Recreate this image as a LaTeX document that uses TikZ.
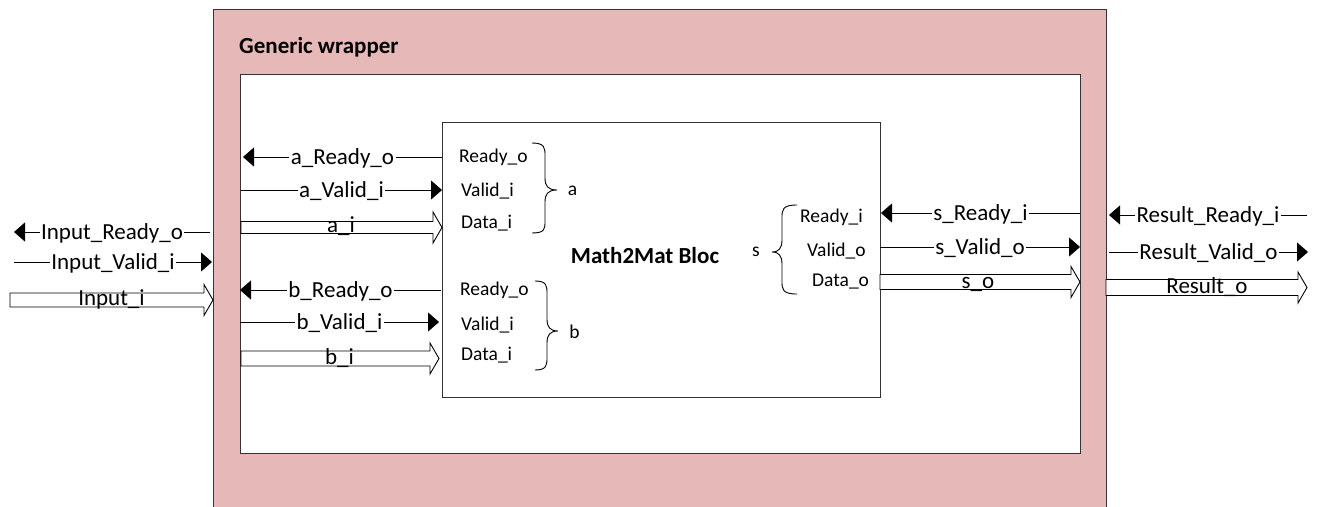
\documentclass[tikz,border=0pt]{standalone}
\usepackage{fontspec}
\setmainfont{Carlito}
\usetikzlibrary{arrows.meta,calc}
\definecolor{wrappink}{RGB}{230,185,184}
\begin{document}
\begin{tikzpicture}[x=1pt,y=-1pt,
  sig/.style={draw=black, line width=0.9pt},
  tipped/.style={sig, -{Triangle[length=11pt,width=19pt]}},
  lbl/.style={fill=white, inner xsep=1.5pt, inner ysep=0pt, font=\fontsize{23}{27}\selectfont, anchor=base, yshift=-7.5pt},
  hlbl/.style={inner sep=0pt, font=\fontsize{23}{27}\selectfont, anchor=base},
  port/.style={inner sep=0pt, font=\fontsize{19.5}{23}\selectfont, anchor=base west},
  brlbl/.style={inner sep=0pt, font=\fontsize{19.5}{23}\selectfont, anchor=base},
  title/.style={inner sep=0pt, font=\fontsize{23}{27}\selectfont\bfseries},
  brace/.style={draw=black, line width=0.9pt},
  hollowarrow/.style={fill=white, draw=black, line width=0.9pt, line join=miter,
    to path={let \p1=(\tikztostart), \p2=(\tikztotarget) in
      (\x1,\y1+#1) -- (\x2-9pt,\y1+#1) -- (\x2-9pt,\y1+15.5pt) -- (\x2,\y1)
      -- (\x2-9pt,\y1-15.5pt) -- (\x2-9pt,\y1-#1) -- (\x1,\y1-#1) -- cycle}},
  boxstyle/.style={draw=black!80, line width=1pt, inner sep=0pt, anchor=north west}
]
\useasboundingbox (0,0) rectangle (1319,506);

% containers
\node[boxstyle, fill=wrappink, minimum width=893pt, minimum height=505pt] (wrapper) at (213,9) {};
\node[boxstyle, fill=white, minimum width=840pt, minimum height=379pt] (inner) at (240,74) {};
\node[boxstyle, fill=white, minimum width=438pt, minimum height=275pt] (block) at (442,122) {};

\node[title, anchor=base west] (gw) at (239,53) {Generic wrapper};
\node[title, anchor=base] (m2m) at (645,263) {Math2Mat Bloc};

% outside left
\coordinate (ir0) at (14,232);  \coordinate (ir1) at (210,232);
\draw[tipped] (ir1) -- node[lbl] (irl) {Input\_Ready\_o} (ir0);
\coordinate (iv0) at (14,262);  \coordinate (iv1) at (212,262);
\draw[tipped] (iv0) -- node[lbl] (ivl) {Input\_Valid\_i} (iv1);
\coordinate (id0) at (10,300);  \coordinate (id1) at (213,300);
\draw[hollowarrow=7pt] (id0) to (id1);
\node[hlbl] (idl) at (111.5,305) {Input\_i};

% a port
\coordinate (ar0) at (243,157); \coordinate (ar1) at (442,157);
\draw[tipped] (ar1) -- node[lbl] (arl) {a\_Ready\_o} (ar0);
\coordinate (av0) at (241,190); \coordinate (av1) at (442,190);
\draw[tipped] (av0) -- node[lbl] (avl) {a\_Valid\_i} (av1);
\coordinate (ad0) at (241,227.5); \coordinate (ad1) at (442,227.5);
\draw[hollowarrow=6pt] (ad0) to (ad1);
\node[hlbl] (adl) at (341,232) {a\_i};

% b port
\coordinate (br0) at (240,290); \coordinate (br1) at (441,290);
\draw[tipped] (br1) -- node[lbl] (brl) {b\_Ready\_o} (br0);
\coordinate (bv0) at (240,322); \coordinate (bv1) at (439,322);
\draw[tipped] (bv0) -- node[lbl] (bvl) {b\_Valid\_i} (bv1);
\coordinate (bd0) at (241,358.5); \coordinate (bd1) at (439,358.5);
\draw[hollowarrow=7.5pt] (bd0) to (bd1);
\node[hlbl] (bdl) at (339.5,364) {b\_i};

% s port
\coordinate (sr0) at (881,213); \coordinate (sr1) at (1080,213);
\draw[tipped] (sr1) -- node[lbl] (srl) {s\_Ready\_i} (sr0);
\coordinate (sv0) at (880,247); \coordinate (sv1) at (1080,247);
\draw[tipped] (sv0) -- node[lbl] (svl) {s\_Valid\_o} (sv1);
\coordinate (sd0) at (880,282); \coordinate (sd1) at (1080,282);
\draw[hollowarrow=7.5pt] (sd0) to (sd1);
\node[hlbl] (sdl) at (978,288) {s\_o};

% outside right
\coordinate (rr0) at (1109,215); \coordinate (rr1) at (1307,215);
\draw[tipped] (rr1) -- node[lbl] (rrl) {Result\_Ready\_i} (rr0);
\coordinate (rv0) at (1109,252); \coordinate (rv1) at (1308,252);
\draw[tipped] (rv0) -- node[lbl] (rvl) {Result\_Valid\_o} (rv1);
\coordinate (rd0) at (1106,287.5); \coordinate (rd1) at (1307,287.5);
\draw[hollowarrow=8pt] (rd0) to (rd1);
\node[hlbl] (rdl) at (1207,293) {Result\_o};

% port labels inside the block
\node[port] (pa1) at (459,162.5) {Ready\_o};
\node[port] (pa2) at (461,196.5) {Valid\_i};
\node[port] (pa3) at (461,228) {Data\_i};
\node[port] (pb1) at (460,295) {Ready\_o};
\node[port] (pb2) at (461,330) {Valid\_i};
\node[port] (pb3) at (461,360.5) {Data\_i};
\node[port] (ps1) at (800,222.5) {Ready\_i};
\node[port] (ps2) at (807,256) {Valid\_o};
\node[port] (ps3) at (812,286.5) {Data\_o};

% braces
\draw[brace] (532,143) .. controls (545,143) and (545,148) .. (545,156) -- (545,178)
  .. controls (545,186) and (548,190) .. (557,190)
  .. controls (548,190) and (545,194) .. (545,202) -- (545,221)
  .. controls (545,229) and (545,233) .. (532,233);
\draw[brace] (535,281) .. controls (547,281) and (547,286) .. (547,294) -- (547,319)
  .. controls (547,327) and (550,331) .. (558,331)
  .. controls (550,331) and (547,335) .. (547,343) -- (547,357)
  .. controls (547,365) and (547,370) .. (535,370);
\draw[brace] (797,205) .. controls (782,205) and (782,210) .. (782,218) -- (782,240)
  .. controls (782,248) and (779,252) .. (772,252)
  .. controls (779,252) and (782,256) .. (782,264) -- (782,281)
  .. controls (782,289) and (782,294) .. (797,294);

\node[brlbl] (la) at (572.5,195) {a};
\node[brlbl] (lb) at (574.5,338) {b};
\node[brlbl] (ls) at (756,256) {s};
\end{tikzpicture}
\end{document}
